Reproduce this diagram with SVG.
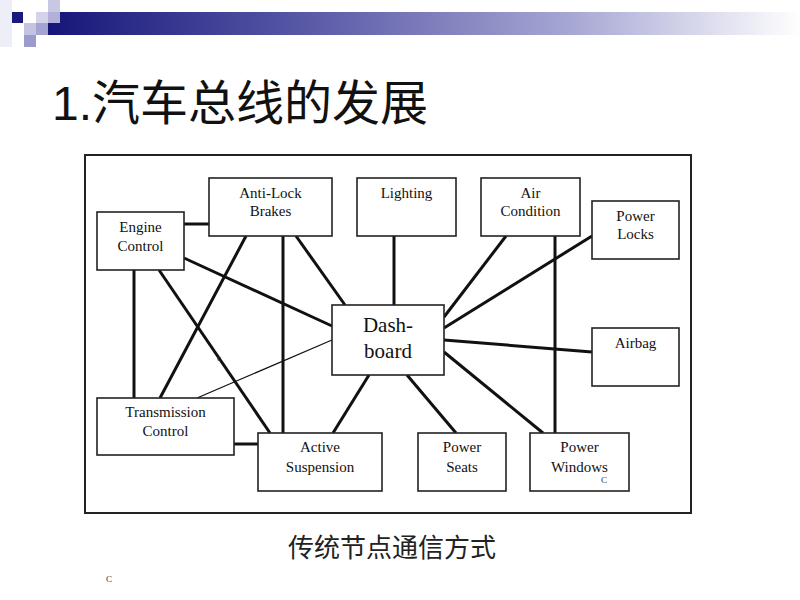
<svg xmlns="http://www.w3.org/2000/svg" width="800" height="600" viewBox="0 0 800 600">
<defs>
<linearGradient id="bar" x1="0" y1="0" x2="1" y2="0">
<stop offset="0" stop-color="#16167a"/>
<stop offset="0.35" stop-color="#5a5aa8"/>
<stop offset="0.7" stop-color="#a8a8d4"/>
<stop offset="1" stop-color="#ffffff"/>
</linearGradient>
<style>
.box{fill:#fff;stroke:#222;stroke-width:1.6}
.lbl{font-family:"Liberation Serif","Times New Roman",serif;font-size:15px;fill:#111;text-anchor:middle}
.big{font-size:21px}
.small{font-family:"Liberation Serif","Times New Roman",serif;font-size:9px;fill:#333}
.conn line{stroke:#111;stroke-width:3;stroke-linecap:butt}
.conn line.thin{stroke-width:1.2}
</style>
</defs>
<rect width="800" height="600" fill="#fff"/>
<g id="header">
<rect x="0" y="0" width="12" height="47" fill="#eeeef8"/>
<rect x="48" y="0" width="12" height="12" fill="#c8c8e4"/>
<rect x="48" y="12" width="752" height="23" fill="url(#bar)"/>
<rect x="12" y="12" width="11" height="11" fill="#1a1a7c"/>
<rect x="36" y="12" width="12" height="11" fill="#d2d2ea"/>
<rect x="48" y="12" width="12" height="11" fill="#b0b0d8"/>
<rect x="24" y="23" width="12" height="12" fill="#c4c4e2"/>
<rect x="36" y="23" width="12" height="12" fill="#a4a4d2"/>
<rect x="24" y="35" width="12" height="12" fill="#9c9ccc"/>
</g>
<text id="title" x="52" y="120" font-family="'Liberation Sans','Noto Sans CJK SC',sans-serif" font-size="48" fill="#111">1.汽车总线的发展</text>
<rect id="frame" x="85" y="155" width="606" height="358" fill="none" stroke="#222" stroke-width="2"/>
<g class="conn" id="connectors">
<line x1="184" y1="224" x2="209" y2="224"/>
<line x1="134" y1="270" x2="134" y2="398"/>
<line x1="159" y1="270" x2="270" y2="433"/>
<line x1="184" y1="258" x2="332" y2="326"/>
<line x1="246" y1="236" x2="160" y2="398"/>
<line x1="283" y1="236" x2="283" y2="433"/>
<line x1="296" y1="236" x2="345" y2="305"/>
<line x1="394" y1="236" x2="394" y2="305"/>
<line x1="506" y1="236" x2="444" y2="317"/>
<line x1="555" y1="236" x2="555" y2="433"/>
<line x1="592" y1="236" x2="444" y2="328"/>
<line x1="444" y1="340" x2="592" y2="352"/>
<line x1="444" y1="352" x2="543" y2="433"/>
<line x1="407" y1="375" x2="456" y2="433"/>
<line x1="369" y1="375" x2="333" y2="433"/>
<line class="thin" x1="332" y1="340" x2="197" y2="398"/>
<line x1="234" y1="444" x2="258" y2="444"/>
</g>
<g id="engine"><rect class="box" x="97" y="212" width="87" height="58"/><text class="lbl" x="140.5" y="232">Engine</text><text class="lbl" x="140.5" y="251">Control</text></g>
<g id="abs"><rect class="box" x="209" y="178" width="123" height="58"/><text class="lbl" x="270.5" y="198">Anti-Lock</text><text class="lbl" x="270.5" y="216">Brakes</text></g>
<g id="lighting"><rect class="box" x="357" y="178" width="99" height="58"/><text class="lbl" x="406.5" y="198">Lighting</text></g>
<g id="aircon"><rect class="box" x="481" y="178" width="99" height="58"/><text class="lbl" x="530.5" y="198">Air</text><text class="lbl" x="530.5" y="216">Condition</text></g>
<g id="locks"><rect class="box" x="592" y="201" width="87" height="58"/><text class="lbl" x="635.5" y="221">Power</text><text class="lbl" x="635.5" y="239">Locks</text></g>
<g id="dashboard"><rect class="box" x="332" y="305" width="112" height="70"/><text class="lbl big" x="388" y="332">Dash-</text><text class="lbl big" x="388" y="358">board</text></g>
<g id="airbag"><rect class="box" x="592" y="328" width="87" height="58"/><text class="lbl" x="635.5" y="348">Airbag</text></g>
<g id="transmission"><rect class="box" x="97" y="398" width="137" height="57"/><text class="lbl" x="165.5" y="417">Transmission</text><text class="lbl" x="165.5" y="436">Control</text></g>
<g id="suspension"><rect class="box" x="258" y="433" width="124" height="58"/><text class="lbl" x="320" y="452">Active</text><text class="lbl" x="320" y="472">Suspension</text></g>
<g id="seats"><rect class="box" x="418" y="433" width="88" height="58"/><text class="lbl" x="462" y="452">Power</text><text class="lbl" x="462" y="472">Seats</text></g>
<g id="windows"><rect class="box" x="530" y="433" width="99" height="58"/><text class="lbl" x="579.5" y="452">Power</text><text class="lbl" x="579.5" y="472">Windows</text></g>
<text class="small" x="601" y="483">C</text>
<text class="small" x="217" y="361">c</text>
<text class="small" x="106" y="582">C</text>
<text id="caption" x="288" y="557" font-family="'Noto Sans CJK SC',sans-serif" font-size="26" fill="#222">传统节点通信方式</text>
</svg>
